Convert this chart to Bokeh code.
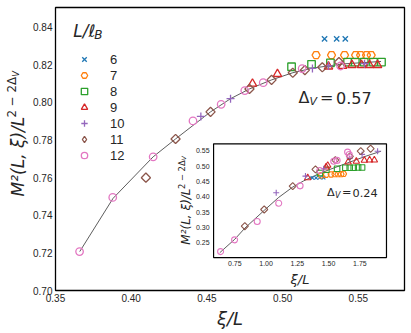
import math
from bokeh.plotting import figure
from bokeh.layouts import row
from bokeh.models import Range1d, FixedTicker, NumeralTickFormatter, Legend, LegendItem, Label
from bokeh.embed import file_html
from bokeh.resources import INLINE
from bokeh.core.properties import value

# ---------------- data ----------------
L_labels = ["6", "7", "8", "9", "10", "11", "12"]
colors = ["#1f77b4", "#ff7f0e", "#2ca02c", "#d62728", "#9467bd", "#8c564b", "#e377c2"]

x_ticks = [0.35, 0.40, 0.45, 0.50, 0.55]
y_ticks = [0.70, 0.72, 0.74, 0.76, 0.78, 0.80, 0.82, 0.84]

# main panel, Delta_V = 0.57
x6 = [0.5277, 0.5357, 0.5414]
y6 = [0.8338, 0.8338, 0.8338]
x7 = [0.5221, 0.5323, 0.5409, 0.5482, 0.5515, 0.5554, 0.5585]
y7 = [0.8252, 0.8252, 0.8252, 0.8252, 0.8252, 0.8252, 0.8252]
x8 = [0.5059, 0.5191, 0.5316, 0.5429, 0.5480, 0.5539, 0.5600, 0.5653]
y8 = [0.8190, 0.8203, 0.8211, 0.8215, 0.8215, 0.8215, 0.8215, 0.8215]
x9 = [0.4801, 0.4966, 0.5303, 0.5396, 0.5458, 0.5521, 0.5574, 0.5627]
y9 = [0.8100, 0.8151, 0.8191, 0.8194, 0.8199, 0.8199, 0.8199, 0.8199]
x10 = [0.4460, 0.4656, 0.5197, 0.5303, 0.5541]
y10 = [0.7926, 0.8020, 0.8181, 0.8194, 0.8206]
x11 = [0.4097, 0.4293, 0.4524, 0.4781, 0.4927, 0.5067, 0.5147, 0.5262, 0.5372]
y11 = [0.7600, 0.7806, 0.7950, 0.8072, 0.8120, 0.8158, 0.8172, 0.8187, 0.8215]
x12 = [0.3659, 0.3878, 0.4145, 0.4408, 0.4594, 0.4750, 0.4872, 0.5129, 0.5383]
y12 = [0.7207, 0.7495, 0.7711, 0.7902, 0.7990, 0.8063, 0.8105, 0.8180, 0.8194]
fit_x = [0.366, 0.388, 0.4145, 0.4293, 0.4524, 0.4656, 0.4781, 0.4927, 0.5067, 0.52, 0.54, 0.565]
fit_y = [0.7207, 0.7490, 0.7711, 0.7806, 0.7950, 0.8020, 0.8072, 0.8120, 0.8158, 0.8183, 0.8205, 0.8218]

# inset, Delta_V = 0.24
ix_ticks = [0.75, 1.00, 1.25, 1.50, 1.75]
iy_ticks = [0.25, 0.30, 0.35, 0.40, 0.45, 0.50, 0.55]
ix6 = [1.37, 1.40, 1.43, 1.46]
iy6 = [0.462, 0.462, 0.463, 0.463]
ix7 = [1.44, 1.48, 1.52, 1.55, 1.575, 1.60, 1.62]
iy7 = [0.470, 0.472, 0.473, 0.474, 0.474, 0.474, 0.475]
ix8 = [1.43, 1.482, 1.568, 1.634, 1.669, 1.701, 1.736, 1.768]
iy8 = [0.478, 0.4886, 0.4918, 0.495, 0.495, 0.495, 0.496, 0.496]
ix9 = [1.333, 1.480, 1.493, 1.656, 1.722, 1.786, 1.828, 1.866]
iy9 = [0.462, 0.497, 0.5026, 0.5135, 0.5157, 0.519, 0.520, 0.520]
ix10 = [1.081, 1.315, 1.461, 1.669, 1.768, 1.892]
iy10 = [0.4134, 0.4677, 0.4918, 0.525, 0.5386, 0.549]
ix11 = [0.830, 0.985, 1.213, 1.395, 1.554, 1.67, 1.757, 1.836]
iy11 = [0.3043, 0.3588, 0.435, 0.4895, 0.520, 0.532, 0.549, 0.557]
ix12 = [0.636, 0.748, 0.929, 1.101, 1.272, 1.43, 1.541, 1.568, 1.652, 1.665]
iy12 = [0.2216, 0.2598, 0.3196, 0.3794, 0.436, 0.486, 0.516, 0.519, 0.546, 0.538]
ifit_x = [0.63, 0.75, 0.83, 0.985, 1.1, 1.213, 1.3, 1.4, 1.5, 1.6, 1.7, 1.8, 1.92]
ifit_y = [0.218, 0.262, 0.298, 0.356, 0.398, 0.432, 0.452, 0.471, 0.488, 0.503, 0.518, 0.533, 0.549]

TXT = "#262626"
MATH = "DejaVu Sans"
TICKF = "Liberation Sans"

# ---------------- left strip holding the composed y-axis label ----------------
STRIP_W = 29
ylab = figure(width=STRIP_W, height=333, x_range=Range1d(0, STRIP_W), y_range=Range1d(0, 333),
              output_backend="svg", toolbar_location=None,
              min_border_left=0, min_border_right=0, min_border_top=0, min_border_bottom=0)
ylab.axis.visible = False
ylab.grid.visible = False
ylab.outline_line_color = None
for t, xo, yo, fs, st in [("M²(L, ξ)/L", 0, 62.7, "17px", "italic"),
                          ("2 − 2Δ", -6, -16.1, "11.9px", "normal"),
                          ("V", -2.4, -56.9, "8.3px", "italic")]:
    ylab.text(x=[17.5], y=[184.5], text=[t], x_offset=xo, y_offset=yo, angle=math.pi / 2,
              text_align="left", text_baseline="middle", text_font=value(MATH),
              text_font_style=st, text_font_size=fs, text_color=TXT)

# ---------------- main figure ----------------
p = figure(width=411 - STRIP_W, height=333, x_range=Range1d(0.35, 0.5805), y_range=Range1d(0.70, 0.8505),
           output_backend="svg", toolbar_location=None,
           min_border_left=26, min_border_right=7, min_border_top=7, min_border_bottom=43)
p.grid.visible = False
p.outline_line_color = "black"
p.outline_line_width = 1.3
p.background_fill_color = "white"
p.border_fill_color = "white"
p.xaxis.ticker = FixedTicker(ticks=x_ticks)
p.yaxis.ticker = FixedTicker(ticks=y_ticks)
p.xaxis.formatter = NumeralTickFormatter(format="0.00")
p.yaxis.formatter = NumeralTickFormatter(format="0.00")
p.axis.axis_line_color = None
p.axis.major_tick_line_color = None
p.axis.minor_tick_line_color = None
p.axis.major_tick_out = 0
p.axis.major_tick_in = 0
p.axis.major_label_text_font = TICKF
p.axis.major_label_text_font_size = "10px"
p.axis.major_label_text_color = TXT
p.axis.major_label_standoff = 3
p.xaxis.axis_label = "ξ/L"
p.xaxis.axis_label_text_font = MATH
p.xaxis.axis_label_text_font_style = "italic"
p.xaxis.axis_label_text_font_size = "18px"
p.xaxis.axis_label_text_color = TXT
p.xaxis.axis_label_standoff = 3

p.line(fit_x, fit_y, line_color="#333333", line_width=0.8)

main_sets = [(x6, y6), (x7, y7), (x8, y8), (x9, y9), (x10, y10), (x11, y11), (x12, y12)]
ins_sets = [(ix6, iy6), (ix7, iy7), (ix8, iy8), (ix9, iy9), (ix10, iy10), (ix11, iy11), (ix12, iy12)]
markers = ["x", "hex", "square", "triangle", "cross", "square", "circle"]
angles = [0, 0, 0, 0, 0, math.pi / 4, 0]
msize = [7.5, 8, 7.5, 8.5, 8, 6.5, 7.5]
isize = [5, 6, 5.5, 6.5, 6, 5, 6]
legend_markers = ["x", "hex", "square", "triangle", "cross", "diamond", "circle"]

legend_renderers = []
for (xs, ys), m, lm, a, s, c in zip(main_sets, markers, legend_markers, angles, msize, colors):
    r = p.scatter(xs, ys, marker=m, angle=a, size=s, line_color=c, fill_color=None, line_width=1.3)
    if lm != m:
        # legend swatch for the rotated-square (diamond) series: zero size in the plot,
        # the legend draws markers at its own swatch size
        r = p.scatter(xs, ys, marker=lm, size=0, line_color=c, fill_color=None, line_width=1.3)
    legend_renderers.append(r)

legend = Legend(items=[LegendItem(label=l, renderers=[r]) for l, r in zip(L_labels, legend_renderers)],
                location=(21, 127), margin=0, padding=0, spacing=0,
                glyph_height=16, glyph_width=16, label_height=16, label_standoff=18,
                label_text_font=TICKF, label_text_font_size="13px", label_text_color=TXT,
                background_fill_alpha=0, border_line_color=None)
p.add_layout(legend)

# legend title L/l_B
p.add_layout(Label(x=0.3617, y=0.8379, text="L/ℓ", text_font=MATH, text_font_style="italic",
                   text_font_size="17px", text_color=TXT, text_baseline="alphabetic"))
p.add_layout(Label(x=0.3617, y=0.8379, x_offset=21, y_offset=-4, text="B", text_font=MATH,
                   text_font_style="italic", text_font_size="12px", text_color=TXT,
                   text_baseline="alphabetic"))

# main annotation
for t, xo, yo, fs, st in [("Δ", 0, 0, "16px", "normal"), ("V", 11, -4, "11px", "italic"),
                          ("=", 21.5, 0, "16px", "normal"), ("0.57", 37.5, 0, "16px", "normal")]:
    p.add_layout(Label(x=0.5105, y=0.8025, x_offset=xo, y_offset=yo, text=t, text_font=MATH,
                       text_font_style=st, text_font_size=fs, text_color=TXT, text_baseline="alphabetic"))

# ---------------- inset ----------------
ixr = Range1d(0.58, 1.963)
iyr = Range1d(0.202, 0.573)
sub = p.subplot(x_source=ixr, y_source=iyr,
                x_target=Range1d(0.4544, 0.5686), y_target=Range1d(0.7175, 0.778))
sub.quad(left=[ixr.start], right=[ixr.end], bottom=[iyr.start], top=[iyr.end],
         fill_color="white", line_color="black", line_width=1.2)
sub.text(x=ix_ticks, y=[iyr.start] * len(ix_ticks), text=["%.2f" % v for v in ix_ticks],
         y_offset=3, text_align="center", text_baseline="top", text_font=value(TICKF),
         text_font_size="7px", text_color=TXT)
sub.text(x=[ixr.start] * len(iy_ticks), y=iy_ticks, text=["%.2f" % v for v in iy_ticks],
         x_offset=-4, text_align="right", text_baseline="middle", text_font=value(TICKF),
         text_font_size="7px", text_color=TXT)
sub.line(ifit_x, ifit_y, line_color="#333333", line_width=0.8)
for (xs, ys), m, a, s, c in zip(ins_sets, markers, angles, isize, colors):
    sub.scatter(xs, ys, marker=m, angle=a, size=s, line_color=c, fill_color=None, line_width=1.1)

mid_x = (ixr.start + ixr.end) / 2
mid_y = (iyr.start + iyr.end) / 2
sub.text(x=[mid_x], y=[iyr.start], text=["ξ/L"], y_offset=22, text_align="center",
         text_baseline="middle", text_font=value(MATH), text_font_style="italic",
         text_font_size="13px", text_color=TXT)
for t, xo, yo, fs, st in [("M²(L, ξ)/L", -28, 44, "12px", "italic"),
                          ("2 − 2Δ", -32, -11.6, "8.4px", "normal"),
                          ("V", -29.7, -40.4, "6px", "italic")]:
    sub.text(x=[ixr.start], y=[mid_y], text=[t], x_offset=xo, y_offset=yo, angle=math.pi / 2,
             text_align="left", text_baseline="middle", text_font=value(MATH),
             text_font_style=st, text_font_size=fs, text_color=TXT)
for t, xo, yo, fs, st in [("Δ", 0, 0, "11.3px", "normal"), ("V", 7.8, 3, "8px", "italic"),
                          ("=", 15, 0, "11.3px", "normal"), ("0.24", 25.5, 0, "11.3px", "normal")]:
    sub.text(x=[1.488], y=[0.414], text=[t], x_offset=xo, y_offset=yo, text_align="left",
             text_baseline="alphabetic", text_font=value(MATH), text_font_style=st,
             text_font_size=fs, text_color=TXT)

layout = row(ylab, p)
open("out.html", "w").write(file_html(layout, INLINE))
